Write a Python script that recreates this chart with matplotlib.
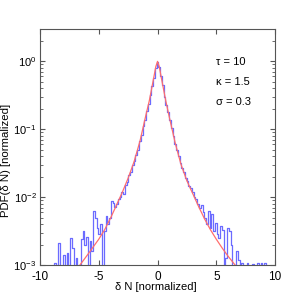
import numpy as np
import matplotlib
matplotlib.use('Agg')
import matplotlib.pyplot as plt

plt.rcParams['font.family'] = ['Liberation Sans', 'DejaVu Sans']
plt.rcParams['mathtext.fontset'] = 'custom'
plt.rcParams['mathtext.rm'] = 'Liberation Sans'
plt.rcParams['mathtext.it'] = 'Liberation Sans'
plt.rcParams['axes.unicode_minus'] = False

# histogram of the data (bin centres start at BIN_START, spaced BIN_WIDTH)
# values are log10(PDF); -3.3 means an empty bin (below the axis)
BIN_START = -8.85
BIN_WIDTH = 0.15
hist_log10 = [
    -3.3, -2.97, -3.3, -2.68, -3.3, -3.3, -2.85, -3.3, -2.82, -3.3,
    -2.60, -2.75, -3.3, -2.90, -3.3, -3.3, -2.62, -2.50, -2.70, -2.58,
    -3.3, -2.65, -2.80, -2.20, -2.30, -2.45, -2.55, -2.40, -3.3, -2.50,
    -2.28, -2.40, -2.30, -2.05, -2.08, -2.15, -2.10, -2.02, -2.00, -1.92,
    -1.95, -1.82, -1.78, -1.68, -1.63, -1.52, -1.47, -1.38, -1.30, -1.18,
    -1.09, -0.95, -0.86, -0.73, -0.63, -0.50, -0.37, -0.24, -0.10, -0.01,
    -0.08, -0.22, -0.35, -0.52, -0.64, -0.74, -0.86, -0.98, -1.10, -1.22,
    -1.30, -1.40, -1.50, -1.57, -1.63, -1.72, -1.76, -1.84, -1.86, -1.93,
    -2.00, -2.02, -2.10, -2.16, -2.12, -2.22, -2.30, -2.40, -2.20, -2.45,
    -2.25, -2.50, -2.38, -2.55, -2.60, -2.42, -2.48, -3.3, -2.90, -2.45,
    -2.50, -2.70, -3.3, -3.3, -2.80, -2.92, -3.3, -2.97, -3.3, -3.3,
    -2.97, -3.3, -3.3, -2.98, -3.3, -3.3, -2.97, -3.3, -2.97, -3.3,
    -2.97, -3.3,
]

# model curve
model_x = [-6.6, -6.0, -5.5, -5.0, -4.5, -4.0, -3.5, -3.0, -2.5, -2.0, -1.5,
           -1.0, -0.7, -0.5, -0.3, -0.15, 0.0, 0.15, 0.3, 0.5, 0.7, 1.0, 1.5,
           2.0, 2.5, 3.0, 3.5, 4.0, 4.5, 5.0, 5.5, 6.0, 6.6]
model_log10 = [-3.0, -2.86, -2.74, -2.62, -2.48, -2.31, -2.12, -1.93, -1.72,
               -1.48, -1.18, -0.80, -0.58, -0.40, -0.22, -0.08, 0.0, -0.08,
               -0.22, -0.40, -0.58, -0.82, -1.20, -1.52, -1.76, -1.95, -2.14,
               -2.32, -2.48, -2.62, -2.75, -2.87, -3.0]

params = ['\u03c4 = 10', '\u03ba = 1.5', '\u03c3 = 0.3']

bin_x = BIN_START + BIN_WIDTH * np.arange(len(hist_log10))
hist_y = 10.0 ** np.array(hist_log10)
model_y = 10.0 ** np.array(model_log10)

fig = plt.figure(figsize=(3.05, 3.05), dpi=100)
ax = fig.add_axes([0.131, 0.131, 0.771, 0.774])

ax.step(bin_x, hist_y, where='mid', color='#6b6bff', lw=0.9)
ax.plot(model_x, model_y, color='#ff6e6e', lw=0.9)

ax.set_yscale('log')
ax.set_xlim(-10, 10)
ax.set_ylim(1e-3, 3)
ax.set_xticks([-10, -5, 0, 5, 10])
ax.tick_params(which='both', direction='in', top=True, right=True,
               color='#555555', labelsize=8.5)
ax.tick_params(axis='y', labelsize=8, pad=2.5)
ax.tick_params(axis='x', pad=4)
ax.tick_params(which='major', length=3.5)
ax.tick_params(which='minor', length=2)
for s in ax.spines.values():
    s.set_color('#555555')
    s.set_linewidth(0.8)

ax.set_xlabel('\u03b4 N [normalized]', fontsize=8)
ax.xaxis.set_label_coords(0.494, -0.07)
ax.set_ylabel('PDF(\u03b4 N) [normalized]', fontsize=8.2)
ax.yaxis.set_label_coords(-0.122, 0.445)

for i, t in enumerate(params):
    ax.text(0.749, 0.86 - i * 0.085, t, transform=ax.transAxes, fontsize=8,
            va='center', ha='left')

fig.savefig('out.png', dpi=100)
